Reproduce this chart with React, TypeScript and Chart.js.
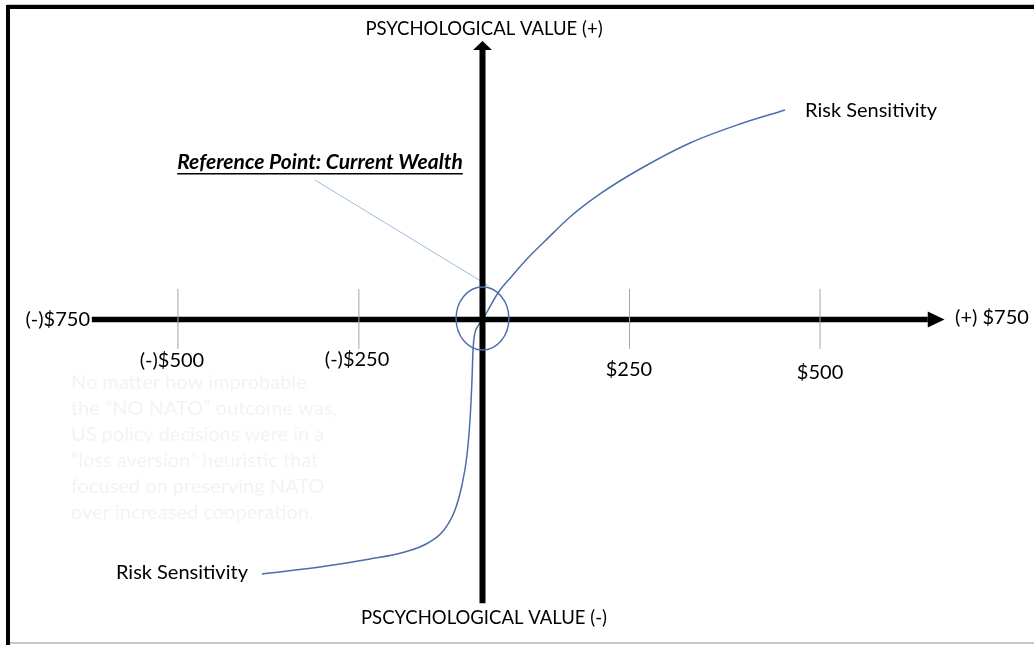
import React, { useEffect, useRef } from "react";
import { Chart, registerables } from "chart.js";

Chart.register(...registerables);

// ---- coordinate frame of the diagram (units: "drawn dollars" / "drawn value") ----
const X_MIN = -804;
const X_MAX = 919;
const Y_MIN = -542.5;
const Y_MAX = 532.5;

// ---- axes ----
const xAxisLeft = -651;
const xArrowBase = 742;
const xArrowTip = 770;
const yAxisBottom = -473;
const yArrowBase = 449;
const yArrowTip = 464;

// ---- tick marks and labels ----
const tickValues = [-507.5, -206, 245, 562.5];
const tickTop = 51;
const tickBottom = -49;
const tickLabels = ["(-)$500", "(-)$250", "$250", "$500"];
const tickLabelX = [-517.5, -209, 244, 562.5];
const tickLabelY = [-69, -67.5, -84, -89];

// ---- value curve (x, y) ----
const curveX = [-367.5, -270.8, -187.5, -129.2, -90.8, -64.2, -45.8, -34.2, -25.8, -20.8, -17.5, -15.8, -13.3, -7.5, 0.8, 7.5, 25.8, 49.2, 72.5, 104.2, 145.8, 195.8, 262.5, 345.8, 429.2, 504.2];
const curveY = [-424.2, -412.5, -399.2, -387.5, -372.5, -350.8, -317.5, -275.8, -225.8, -167.5, -100.8, -50.8, -25.8, -10.8, 0.8, 12.5, 44.2, 72.5, 99.2, 130.8, 170.8, 209.2, 250.8, 294.2, 325.8, 349.2];

// ---- reference point marker ----
const circleCenter = [0, 1.7];
const circleRadii = [44, 52.5];
const pointerX = [-279.2, 10.8];
const pointerY = [232.5, 55.8];

// ---- text labels ----
const axisTitles = ["PSYCHOLOGICAL VALUE (+)", "PSCYCHOLOGICAL VALUE (-)"];
const axisTitleX = [2.5, 2.5];
const axisTitleY = [484.2, -497.5];
const endLabels = ["(-)$750", "(+) $750"];
const endLabelX = [-654, 787.5];
const endLabelY = [-0.8, 2.5];
const riskLabels = ["Risk Sensitivity", "Risk Sensitivity"];
const riskLabelX = [537.5, -610.8];
const riskLabelY = [347.5, -422.5];
const referenceLabel = "Reference Point: Current Wealth";
const referenceLabelX = -270.8;
const referenceLabelY = 262.5;
const noteLines = [
  "No matter how improbable",
  "the \u201cNO NATO\u201d outcome was,",
  "US policy decisions were in a",
  "\u201closs aversion\u201d heuristic that",
  "focused on preserving NATO",
  "over increased cooperation.",
];
const noteX = -685.8;
const noteY = [-105.8, -149.2, -192.5, -235.8, -279.2, -322.5];

const FONT = "Lato, 'Open Sans', sans-serif";
const CURVE_COLOR = "#4a6fa8";
const POINTER_COLOR = "#9fbbe0";
const TICK_COLOR = "#a6a6a6";

export default function App() {
  const ref = useRef<HTMLCanvasElement>(null);

  useEffect(() => {
    const canvas = ref.current;
    if (!canvas) return;

    const diagramPlugin = {
      id: "diagram",
      beforeDatasetsDraw(chart: any) {
        const { ctx, scales } = chart;
        const X = (v: number) => scales.x.getPixelForValue(v);
        const Y = (v: number) => scales.y.getPixelForValue(v);
        ctx.save();
        ctx.fillStyle = "#f3f3f3";
        ctx.font = `20px ${FONT}`;
        ctx.textAlign = "left";
        ctx.textBaseline = "middle";
        noteLines.forEach((line, i) => ctx.fillText(line, X(noteX), Y(noteY[i])));
        ctx.restore();
      },
      afterDatasetsDraw(chart: any) {
        const { ctx, scales } = chart;
        const X = (v: number) => scales.x.getPixelForValue(v);
        const Y = (v: number) => scales.y.getPixelForValue(v);
        ctx.save();
        // arrow heads
        ctx.fillStyle = "#000";
        ctx.beginPath();
        ctx.moveTo(X(xArrowTip), Y(0));
        ctx.lineTo(X(xArrowBase), Y(0) - 8);
        ctx.lineTo(X(xArrowBase), Y(0) + 8);
        ctx.closePath();
        ctx.fill();
        ctx.beginPath();
        ctx.moveTo(X(0), Y(yArrowTip));
        ctx.lineTo(X(0) - 9.5, Y(yArrowBase));
        ctx.lineTo(X(0) + 9.5, Y(yArrowBase));
        ctx.closePath();
        ctx.fill();

        // reference circle
        ctx.strokeStyle = CURVE_COLOR;
        ctx.lineWidth = 1.4;
        ctx.beginPath();
        ctx.ellipse(
          X(circleCenter[0]),
          Y(circleCenter[1]),
          Math.abs(X(circleRadii[0]) - X(0)),
          Math.abs(Y(circleRadii[1]) - Y(0)),
          0,
          0,
          Math.PI * 2
        );
        ctx.stroke();

        // texts
        ctx.fillStyle = "#000";
        ctx.textBaseline = "middle";
        ctx.textAlign = "center";
        ctx.font = `18.5px ${FONT}`;
        axisTitles.forEach((t, i) => ctx.fillText(t, X(axisTitleX[i]), Y(axisTitleY[i])));
        ctx.font = `20px ${FONT}`;
        tickLabels.forEach((t, i) => ctx.fillText(t, X(tickLabelX[i]), Y(tickLabelY[i])));
        ctx.textAlign = "right";
        ctx.fillText(endLabels[0], X(endLabelX[0]), Y(endLabelY[0]));
        ctx.textAlign = "left";
        ctx.fillText(endLabels[1], X(endLabelX[1]), Y(endLabelY[1]));
        riskLabels.forEach((t, i) => ctx.fillText(t, X(riskLabelX[i]), Y(riskLabelY[i])));

        ctx.font = `italic bold 21px ${FONT}`;
        ctx.textAlign = "center";
        const rx = X(referenceLabelX);
        const ry = Y(referenceLabelY);
        ctx.fillText(referenceLabel, rx, ry);
        const w = ctx.measureText(referenceLabel).width;
        ctx.fillRect(rx - w / 2, ry + 11, w, 1.5);
        ctx.restore();
      },
    };

    const solid = (color: string, width: number) => ({
      showLine: true,
      borderColor: color,
      backgroundColor: color,
      borderWidth: width,
      pointRadius: 0,
      borderCapStyle: "butt" as const,
      tension: 0,
    });

    const chart = new Chart(canvas, {
      type: "scatter",
      data: {
        datasets: [
          ...tickValues.map((v) => ({
            data: [
              { x: v, y: tickBottom },
              { x: v, y: tickTop },
            ],
            ...solid(TICK_COLOR, 1),
          })),
          {
            data: [
              { x: xAxisLeft, y: 0 },
              { x: xArrowBase, y: 0 },
            ],
            ...solid("#000", 5.5),
          },
          {
            data: [
              { x: 0, y: yAxisBottom },
              { x: 0, y: yArrowBase },
            ],
            ...solid("#000", 6),
          },
          {
            data: pointerX.map((x, i) => ({ x, y: pointerY[i] })),
            ...solid(POINTER_COLOR, 1),
          },
          {
            data: curveX.map((x, i) => ({ x, y: curveY[i] })),
            ...solid(CURVE_COLOR, 1.5),
            cubicInterpolationMode: "monotone" as const,
          },
        ],
      },
      options: {
        animation: false,
        responsive: false,
        maintainAspectRatio: false,
        layout: { padding: 0 },
        plugins: {
          legend: { display: false },
          tooltip: { enabled: false },
          title: { display: false },
        },
        scales: {
          x: { type: "linear", min: X_MIN, max: X_MAX, display: false },
          y: { type: "linear", min: Y_MIN, max: Y_MAX, display: false },
        },
      },
      plugins: [diagramPlugin],
    });

    return () => chart.destroy();
  }, []);

  return (
    <div
      style={{
        position: "fixed",
        left: 0,
        top: 0,
        width: 1034,
        height: 645,
        background: "#fff",
        overflow: "hidden",
      }}
    >
      <div style={{ position: "absolute", left: 7, top: 4, right: 0, height: 1, background: "#c8c8c8" }} />
      <div
        style={{
          position: "absolute",
          left: 6,
          top: 5,
          right: 0,
          bottom: 0,
          borderTop: "4px solid #000",
          borderLeft: "4px solid #000",
        }}
      />
      <div style={{ position: "absolute", left: 10, top: 642, right: 0, height: 2, background: "#c8c8c8" }} />
      <canvas ref={ref} width={1034} height={645} style={{ position: "absolute", left: 0, top: 0 }} />
    </div>
  );
}
